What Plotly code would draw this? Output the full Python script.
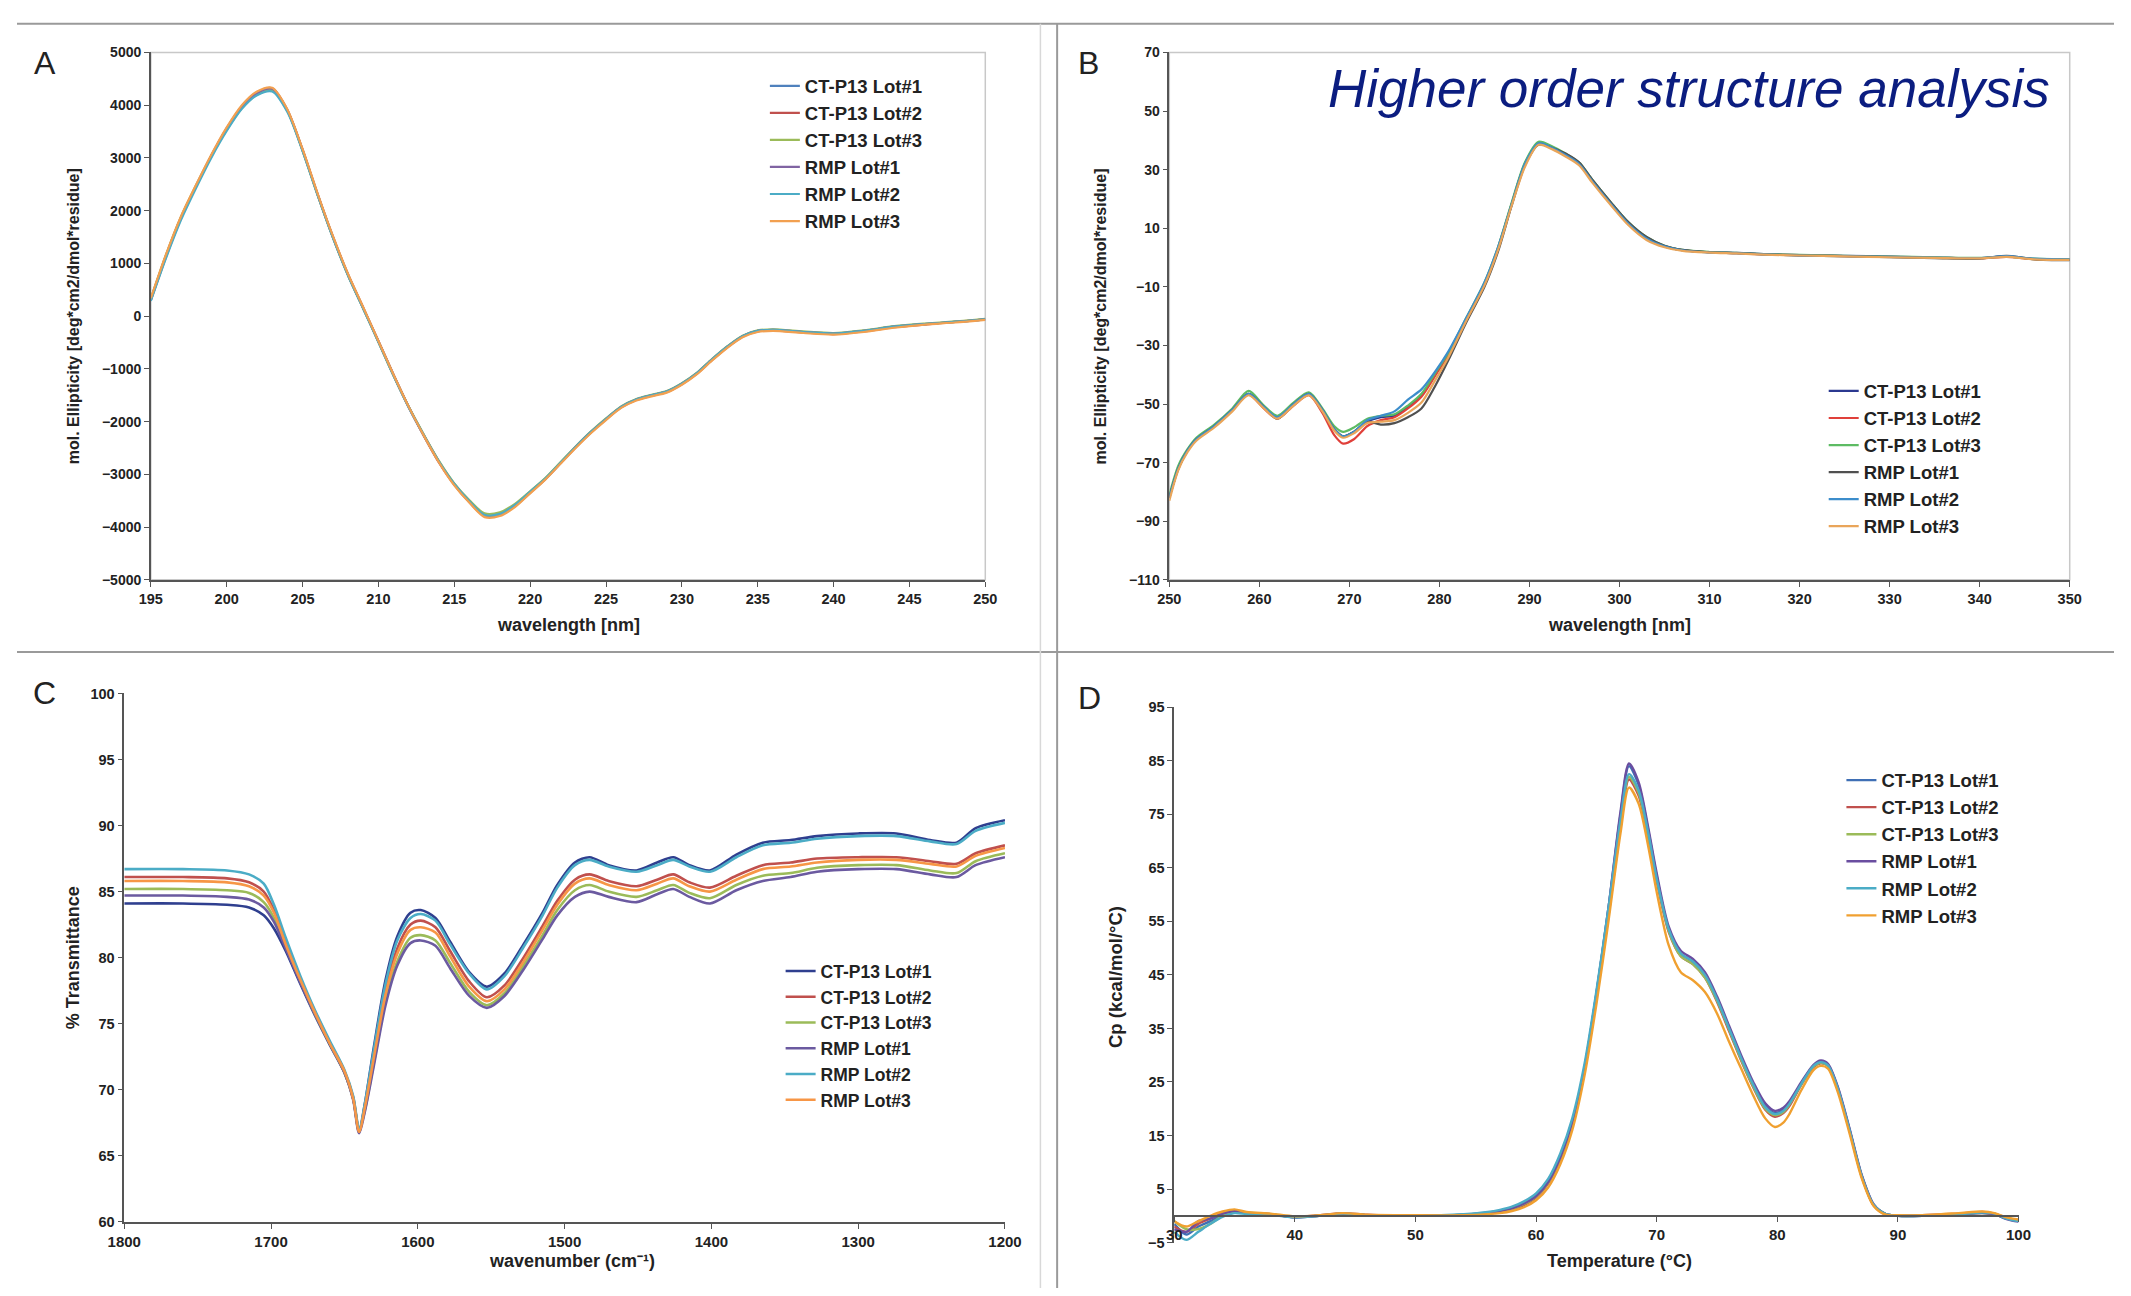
import plotly.graph_objects as go

W, H = 2131, 1296
names = ["CT-P13 Lot#1", "CT-P13 Lot#2", "CT-P13 Lot#3", "RMP Lot#1", "RMP Lot#2", "RMP Lot#3"]

# ---------------- Panel A: far-UV CD ----------------
xA = [195, 196, 197, 198, 199, 200, 201, 202, 203, 204, 205, 206, 207, 208, 209, 210,
      211, 212, 213, 214, 215, 216, 217, 218, 219, 220, 221, 222, 223, 224, 225, 226,
      227, 228, 229, 230, 231, 232, 233, 234, 235, 236, 238, 240, 242, 244, 246, 248, 250]
A1 = [320, 1150, 1880, 2480, 3050, 3550, 3960, 4220, 4300, 3900, 3150, 2300, 1500, 780, 150, -480,
      -1120, -1720, -2260, -2760, -3180, -3500, -3760, -3740, -3580, -3330, -3080, -2780, -2480, -2200, -1950, -1720,
      -1580, -1500, -1430, -1280, -1080, -820, -580, -380, -280, -260, -300, -330, -280, -200, -150, -110, -60]
A2 = [300, 1120, 1860, 2470, 3040, 3560, 3980, 4240, 4320, 3910, 3160, 2310, 1510, 790, 160, -470,
      -1110, -1720, -2270, -2780, -3200, -3530, -3790, -3770, -3600, -3350, -3090, -2790, -2490, -2210, -1960, -1730,
      -1590, -1510, -1440, -1290, -1090, -830, -590, -390, -290, -270, -310, -340, -290, -210, -160, -110, -60]
A3 = [330, 1160, 1890, 2490, 3040, 3530, 3940, 4200, 4280, 3890, 3140, 2290, 1490, 770, 140, -490,
      -1130, -1720, -2250, -2750, -3170, -3490, -3740, -3720, -3560, -3320, -3070, -2770, -2470, -2190, -1940, -1710,
      -1570, -1490, -1420, -1270, -1070, -810, -570, -370, -270, -250, -290, -320, -270, -190, -140, -100, -50]
A4 = [310, 1140, 1870, 2480, 3050, 3560, 3970, 4230, 4310, 3900, 3150, 2300, 1500, 780, 150, -480,
      -1120, -1730, -2270, -2770, -3190, -3520, -3780, -3760, -3590, -3340, -3090, -2790, -2480, -2200, -1950, -1720,
      -1580, -1500, -1430, -1280, -1080, -820, -580, -380, -280, -260, -300, -330, -280, -200, -150, -110, -60]
A5 = [290, 1100, 1830, 2440, 3010, 3510, 3930, 4190, 4260, 3870, 3130, 2290, 1490, 770, 140, -490,
      -1130, -1730, -2260, -2760, -3180, -3510, -3770, -3750, -3580, -3330, -3080, -2780, -2480, -2200, -1950, -1720,
      -1580, -1500, -1430, -1280, -1080, -820, -580, -380, -280, -260, -300, -330, -280, -200, -150, -110, -60]
A6 = [340, 1170, 1900, 2500, 3070, 3580, 4000, 4260, 4330, 3920, 3170, 2320, 1520, 800, 170, -470,
      -1110, -1720, -2270, -2780, -3210, -3540, -3810, -3790, -3620, -3360, -3100, -2800, -2500, -2220, -1970, -1740,
      -1600, -1520, -1450, -1300, -1100, -840, -600, -400, -300, -280, -320, -350, -300, -220, -160, -120, -70]

# ---------------- Panel B: near-UV CD ----------------
xB = [250, 251, 252, 253, 255, 257, 258.8, 260.5, 262, 263.8, 265.5, 267, 268.3, 269.3, 270.5, 272,
      273.5, 275, 276.5, 278, 279.5, 281, 283, 285, 286.5, 288, 289.5, 291, 292.5, 294, 295.5, 297,
      299, 301, 303, 305, 307, 310, 313, 316, 320, 325, 330, 335, 340, 343, 346, 350]
B1 = [-82, -72, -66, -62, -57.5, -52, -46.5, -51, -54.5, -50, -46.5, -52, -58.5, -61, -59.5, -56,
      -54.5, -54, -51, -47, -40, -33, -21, -9, 3, 18, 32, 39, 37.5, 35, 32, 26,
      18.5, 11.5, 6.5, 3.8, 2.5, 1.8, 1.6, 1.2, 0.8, 0.6, 0.3, 0, -0.2, 0.4, -0.5, -0.7]
B2 = [-82, -72, -66, -62, -57.5, -52, -46.8, -51.5, -55, -50.5, -47, -53, -60.5, -63.5, -62, -57.5,
      -55.5, -54.5, -51.5, -47.5, -40.5, -33, -21, -9, 3, 18, 32, 39, 37.5, 35, 32, 26,
      18.5, 11.5, 6.5, 3.8, 2.5, 1.8, 1.5, 1.1, 0.8, 0.5, 0.2, 0, -0.3, 0.2, -0.5, -0.7]
B3 = [-81, -71, -65.5, -61.5, -57, -51.5, -45.5, -50.5, -54, -49.5, -46, -51.5, -57.5, -59.5, -58, -55,
      -54, -53.5, -50.5, -46.5, -39.5, -32.5, -20.5, -8.5, 3.5, 18.5, 32.5, 39.5, 38, 35.5, 32.5, 26.5,
      19, 12, 7, 4, 2.6, 1.9, 1.6, 1.2, 0.9, 0.6, 0.3, 0.1, -0.1, 0.3, -0.4, -0.6]
B4 = [-82, -72, -66, -62, -57.5, -52, -46.5, -51, -55, -50, -46.5, -52, -58.5, -61, -59.5, -56,
      -57, -56.5, -54.5, -51.5, -44, -35, -22, -10, 2, 17.5, 31.5, 38.5, 37.5, 35.5, 32.5, 26.5,
      19, 12, 7, 4, 2.6, 1.8, 1.5, 1.1, 0.7, 0.5, 0.1, -0.2, -0.4, 0.6, -0.6, -0.9]
B5 = [-82, -72, -66, -62, -57.5, -52, -46.5, -51, -54.5, -50, -46.5, -52, -58.5, -61, -59.5, -55.5,
      -54, -52.5, -48.5, -45, -39, -32, -20.5, -8.5, 3.5, 18, 32, 39, 37.5, 35, 32, 26,
      18.5, 11.5, 6.5, 3.8, 2.5, 1.7, 1.5, 1.1, 0.7, 0.5, 0.2, 0, -0.2, 0.5, -0.4, -0.6]
B6 = [-83, -72.5, -66.5, -62.5, -58, -52.5, -47, -51.5, -55, -50.5, -47, -52.5, -59, -61.5, -60, -56.5,
      -56, -55.5, -53, -49.5, -42, -34, -21.5, -9.5, 2.5, 17.5, 31, 38.5, 37, 34.5, 31.5, 25.5,
      18, 11, 6, 3.5, 2.3, 1.7, 1.4, 1.0, 0.7, 0.4, 0.1, -0.1, -0.3, 0.2, -0.6, -0.8]

# ---------------- Panel C: FTIR ----------------
xC = [1800, 1760, 1730, 1715, 1705, 1698, 1690, 1680, 1670, 1660, 1650, 1644, 1640, 1636, 1630,
      1622, 1614, 1605, 1598, 1588, 1578, 1565, 1553, 1541, 1528, 1515, 1505, 1493, 1483, 1470,
      1451, 1437, 1426, 1415, 1401, 1383, 1365, 1346, 1328, 1300, 1274, 1251, 1233, 1220, 1200]
C1 = [84.1, 84.1, 84.0, 83.8, 83.2, 82.2, 80.5, 78.0, 75.6, 73.4, 71.3, 69.3, 66.8, 69.0, 73.2,
      78.3, 81.6, 83.4, 83.6, 83.0, 81.2, 78.9, 77.8, 78.8, 81.0, 83.4, 85.5, 87.2, 87.6, 87.0,
      86.6, 87.2, 87.6, 87.0, 86.6, 87.8, 88.7, 88.9, 89.2, 89.4, 89.4, 88.9, 88.7, 89.8, 90.4]
C2 = [86.1, 86.1, 86.0, 85.7, 85.0, 83.6, 81.2, 78.4, 75.9, 73.6, 71.4, 69.4, 66.9, 68.8, 72.6,
      77.5, 80.7, 82.5, 82.8, 82.3, 80.5, 78.2, 77.0, 77.9, 80.0, 82.4, 84.3, 85.9, 86.3, 85.8,
      85.4, 85.9, 86.3, 85.7, 85.3, 86.2, 87.0, 87.2, 87.5, 87.6, 87.6, 87.3, 87.1, 87.9, 88.5]
C3 = [85.2, 85.2, 85.1, 84.9, 84.2, 83.0, 80.8, 78.2, 75.7, 73.5, 71.3, 69.3, 66.9, 68.5, 72.0,
      76.7, 79.7, 81.5, 81.7, 81.3, 79.6, 77.4, 76.4, 77.3, 79.4, 81.7, 83.6, 85.1, 85.5, 85.0,
      84.6, 85.1, 85.5, 84.9, 84.5, 85.5, 86.2, 86.4, 86.8, 87.0, 87.0, 86.6, 86.4, 87.3, 87.9]
C4 = [84.7, 84.7, 84.6, 84.4, 83.8, 82.7, 80.7, 78.1, 75.7, 73.5, 71.3, 69.2, 66.7, 68.4, 71.8,
      76.4, 79.4, 81.1, 81.3, 80.9, 79.2, 77.1, 76.2, 77.1, 79.1, 81.4, 83.2, 84.6, 85.0, 84.6,
      84.2, 84.8, 85.2, 84.6, 84.1, 85.1, 85.8, 86.1, 86.5, 86.7, 86.7, 86.3, 86.1, 87.0, 87.6]
C5 = [86.7, 86.7, 86.6, 86.3, 85.6, 84.0, 81.5, 78.6, 76.0, 73.7, 71.5, 69.5, 67.0, 69.0, 73.0,
      78.0, 81.3, 83.0, 83.3, 82.8, 81.0, 78.8, 77.6, 78.6, 80.8, 83.2, 85.3, 87.0, 87.4, 86.9,
      86.5, 87.0, 87.4, 86.9, 86.5, 87.6, 88.5, 88.7, 89.0, 89.2, 89.2, 88.8, 88.6, 89.6, 90.2]
C6 = [85.8, 85.8, 85.7, 85.4, 84.7, 83.4, 81.0, 78.3, 75.8, 73.5, 71.4, 69.3, 66.8, 68.7, 72.4,
      77.2, 80.3, 82.1, 82.3, 81.9, 80.1, 77.8, 76.7, 77.6, 79.7, 82.1, 84.0, 85.6, 86.0, 85.5,
      85.1, 85.6, 86.0, 85.4, 85.0, 85.9, 86.7, 86.9, 87.2, 87.4, 87.4, 87.1, 86.9, 87.7, 88.3]

# ---------------- Panel D: DSC ----------------
xD = [30, 31, 32, 33, 34, 35, 36, 38, 40, 42, 44, 46, 50, 54, 56, 57, 58, 59, 60, 61, 62, 63,
      64, 65, 66, 67, 67.7, 68.5, 69.3, 70, 71, 72, 73, 74, 75, 76, 77, 78, 79, 79.8, 80.5, 81,
      82, 83, 83.6, 84.2, 85, 86, 87, 88, 89, 90, 92, 95, 97, 98, 99, 100]
D1 = [-1.5, -3.5, -2.0, -1.0, 0.2, 0.8, 0.5, 0.3, -0.3, 0.0, 0.4, 0.1, 0.0, 0.2, 0.6, 0.9, 1.5, 2.4,
      3.8, 6.4, 11.0, 17.5, 27.5, 41.5, 57.5, 75.0, 84.0, 80.5, 72.0, 63.5, 53.5, 49.0, 47.5, 45.0,
      40.5, 35.0, 29.5, 24.5, 20.5, 19.2, 19.8, 21.0, 24.8, 28.0, 28.8, 28.2, 24.0, 16.0, 7.5, 2.0,
      0.3, 0.0, 0.0, 0.3, 0.6, 0.3, -0.5, -1.0]
D2 = [-2.0, -3.0, -1.5, -0.5, 0.5, 1.0, 0.4, 0.2, -0.2, 0.1, 0.5, 0.2, 0.0, 0.1, 0.4, 0.7, 1.2, 2.0,
      3.4, 6.0, 10.5, 17.0, 27.0, 40.5, 56.0, 72.5, 81.5, 78.5, 70.5, 62.5, 53.0, 48.5, 47.0, 44.5,
      40.0, 34.5, 29.0, 24.0, 19.8, 18.5, 19.2, 20.5, 24.5, 27.8, 28.5, 28.0, 23.8, 15.8, 7.3, 1.9,
      0.2, 0.0, 0.1, 0.4, 0.7, 0.4, -0.4, -0.9]
D3 = [-1.0, -2.5, -2.5, -1.5, 0.0, 0.6, 0.6, 0.3, -0.2, 0.0, 0.3, 0.1, 0.0, 0.2, 0.5, 0.8, 1.3, 2.2,
      3.6, 6.2, 10.8, 17.2, 27.2, 41.0, 56.8, 73.5, 82.0, 79.0, 71.0, 63.0, 53.2, 48.5, 47.0, 44.5,
      40.2, 34.8, 29.2, 24.2, 20.0, 18.8, 19.4, 20.8, 24.6, 27.9, 28.6, 28.0, 23.8, 15.9, 7.4, 2.0,
      0.3, 0.0, 0.0, 0.2, 0.5, 0.2, -0.4, -0.8]
D4 = [-2.5, -3.0, -1.0, -0.5, 0.4, 0.9, 0.6, 0.3, -0.3, 0.0, 0.3, 0.1, 0.0, 0.2, 0.6, 0.9, 1.4, 2.3,
      3.7, 6.3, 10.9, 17.4, 27.4, 41.5, 57.5, 75.5, 84.5, 81.0, 72.5, 64.0, 54.0, 49.5, 48.0, 45.5,
      41.0, 35.5, 30.0, 25.0, 21.0, 19.6, 20.2, 21.4, 25.0, 28.2, 29.0, 28.4, 24.2, 16.2, 7.6, 2.1,
      0.3, 0.0, 0.0, 0.3, 0.5, 0.3, -0.6, -1.1]
D5 = [-3.0, -4.5, -3.0, -1.5, -0.2, 0.5, 0.3, 0.2, -0.3, 0.0, 0.4, 0.1, 0.0, 0.3, 0.7, 1.1, 1.7, 2.7,
      4.2, 6.9, 11.6, 18.2, 28.2, 42.0, 57.5, 74.0, 82.5, 79.5, 71.5, 63.0, 53.5, 49.0, 47.5, 45.0,
      40.5, 35.0, 29.5, 24.5, 20.3, 19.0, 19.6, 20.9, 24.7, 28.0, 28.7, 28.1, 23.9, 15.9, 7.4, 2.0,
      0.3, 0.0, 0.0, 0.3, 0.6, 0.4, -0.5, -1.0]
D6 = [-1.0, -2.0, -1.0, 0.0, 0.8, 1.2, 0.7, 0.4, -0.1, 0.1, 0.5, 0.2, 0.1, 0.1, 0.3, 0.5, 0.9, 1.6,
      2.9, 5.3, 9.6, 16.0, 26.0, 39.5, 55.0, 71.5, 80.0, 77.0, 69.0, 60.5, 50.5, 45.5, 44.0, 41.8,
      37.8, 32.5, 27.5, 22.5, 18.2, 16.6, 17.4, 19.0, 23.5, 27.2, 28.0, 27.5, 23.2, 15.3, 7.0, 1.8,
      0.2, 0.1, 0.1, 0.5, 0.8, 0.5, -0.3, -0.7]

colA = ["#4F81BD", "#C0504D", "#9BBB59", "#8064A2", "#4BACC6", "#F2A050"]
colB = ["#2B3990", "#E0403A", "#5DBB63", "#505050", "#3C8DCB", "#E9A55A"]
colC = ["#2F3F8F", "#C0504D", "#9BBB59", "#6B5AA0", "#4BACC6", "#F79646"]
colD = ["#3F6FB5", "#C0504D", "#9BBB59", "#6A4EA0", "#4BACC6", "#F0A030"]

fig = go.Figure()

def add(xs, series, cols, xa, ya, leg, width):
    for nm, ys, c in zip(names, series, cols):
        fig.add_trace(go.Scatter(x=xs, y=ys, name=nm, mode="lines",
                                 line=dict(color=c, width=width, shape="spline", smoothing=0.8),
                                 xaxis=xa, yaxis=ya, legend=leg))

add(xA, [A1, A2, A3, A4, A5, A6], colA, "x", "y", "legend", 2.2)
add(xB, [B1, B2, B3, B4, B5, B6], colB, "x2", "y2", "legend2", 2.2)
add(xC, [C1, C2, C3, C4, C5, C6], colC, "x3", "y3", "legend3", 2.6)
add(xD, [D1, D2, D3, D4, D5, D6], colD, "x4", "y4", "legend4", 2.4)

def px(v):
    return v / W

def py(v):
    return 1 - v / H

def axstyle(fs):
    return dict(showgrid=False, zeroline=False, showline=True, linecolor="#555555", linewidth=1.5,
                ticks="outside", ticklen=5, tickcolor="#555555",
                tickfont=dict(family="Arial", size=fs, color="#222222", weight="bold"))

domA = dict(x=[px(136), px(984)], y=[py(579), py(45)])
domB = dict(x=[px(1171), px(2086)], y=[py(579), py(45)])
domC = dict(x=[px(109), px(1004)], y=[py(1229), py(694)])
domD = dict(x=[px(1176), px(2034)], y=[py(1250), py(708)])

yD_zero = domD["y"][0] + (0 - (-5)) / 100 * (domD["y"][1] - domD["y"][0])

fig.update_layout(
    width=W, height=H, margin=dict(l=0, r=0, t=0, b=0),
    paper_bgcolor="white", plot_bgcolor="white",
    font=dict(family="Arial", color="#222222"),
    xaxis=dict(domain=domA["x"], anchor="y", range=[195, 250], tick0=195, dtick=5, **axstyle(14.5)),
    yaxis=dict(domain=domA["y"], anchor="x", range=[-5000, 5000], dtick=1000, **axstyle(14)),
    xaxis2=dict(domain=domB["x"], anchor="y2", range=[250, 350], dtick=10, **axstyle(14.5)),
    yaxis2=dict(domain=domB["y"], anchor="x2", range=[-110, 70], tick0=-110, dtick=20, **axstyle(14)),
    xaxis3=dict(domain=domC["x"], anchor="y3", range=[1800, 1200], dtick=100, **axstyle(15)),
    yaxis3=dict(domain=domC["y"], anchor="x3", range=[60, 100], dtick=5, **axstyle(14.5)),
    xaxis4=dict(domain=domD["x"], anchor="free", position=yD_zero, range=[30, 100], dtick=10, **axstyle(15)),
    yaxis4=dict(domain=domD["y"], anchor="x4", range=[-5, 95], tick0=-5, dtick=10, **axstyle(14.5)),
    showlegend=True,
)

def leg(x, y, fs):
    return dict(x=px(x), y=py(y), bgcolor="rgba(0,0,0,0)", xanchor="left", yanchor="top",
                itemwidth=30, tracegroupgap=0,
                font=dict(family="Arial", size=fs, color="#222222", weight="bold"))

fig.update_layout(
    legend=leg(760, 60, 18.5),
    legend2=leg(1836, 369, 18.5),
    legend3=leg(776, 957, 17.5),
    legend4=leg(1854, 763, 18.5),
)

# plot-area frames for A and B (light grey, Excel style)
for xr, yr in [("x domain", "y domain"), ("x2 domain", "y2 domain")]:
    fig.add_shape(type="rect", xref=xr, yref=yr, x0=0, x1=1, y0=0, y1=1,
                  line=dict(color="#C8C8C8", width=1.5), layer="below")

# panel dividers
div = dict(color="#9A9A9A", width=2)
fig.add_shape(type="line", xref="paper", yref="paper", x0=0, x1=1, y0=py(16), y1=py(16), line=div)
fig.add_shape(type="line", xref="paper", yref="paper", x0=0, x1=1, y0=py(652), y1=py(652), line=div)
fig.add_shape(type="line", xref="paper", yref="paper", x0=px(1057), x1=px(1057), y0=0, y1=py(16), line=div)
fig.add_shape(type="line", xref="paper", yref="paper", x0=px(1040), x1=px(1040), y0=0, y1=py(16),
              line=dict(color="#D8D8D8", width=1.5))

def ann(text, x, y, size, angle=0, bold=True, color="#222222", italic=False, xanchor="center"):
    f = dict(family="Arial", size=size, color=color)
    if bold:
        f["weight"] = "bold"
    if italic:
        f["style"] = "italic"
    fig.add_annotation(text=text, x=px(x), y=py(y), xref="paper", yref="paper", showarrow=False,
                       textangle=angle, font=f, xanchor=xanchor, yanchor="middle")

# panel letters
ann("A", 28, 56, 32, bold=False)
ann("B", 1089, 56, 32, bold=False)
ann("C", 28, 694, 32, bold=False)
ann("D", 1090, 699, 32, bold=False)

# axis titles
ann("mol. Ellipticity [deg*cm2/dmol*residue]", 57, 312, 16, angle=-90)
ann("wavelength [nm]", 560, 625, 18)
ann("mol. Ellipticity [deg*cm2/dmol*residue]", 1101, 312, 16, angle=-90)
ann("wavelength [nm]", 1628, 625, 18)
ann("% Transmittance", 57, 962, 18, angle=-90)
ann("wavenumber (cm⁻¹)", 564, 1269, 18)
ann("Cp (kcal/mol/°C)", 1117, 981, 18.5, angle=-90)
ann("Temperature (°C)", 1628, 1269, 18)

# headline
ann("Higher order structure analysis", 2068, 82, 53, bold=False, color="#0B1D80", italic=True,
    xanchor="right")

fig.write_html("out.html")
